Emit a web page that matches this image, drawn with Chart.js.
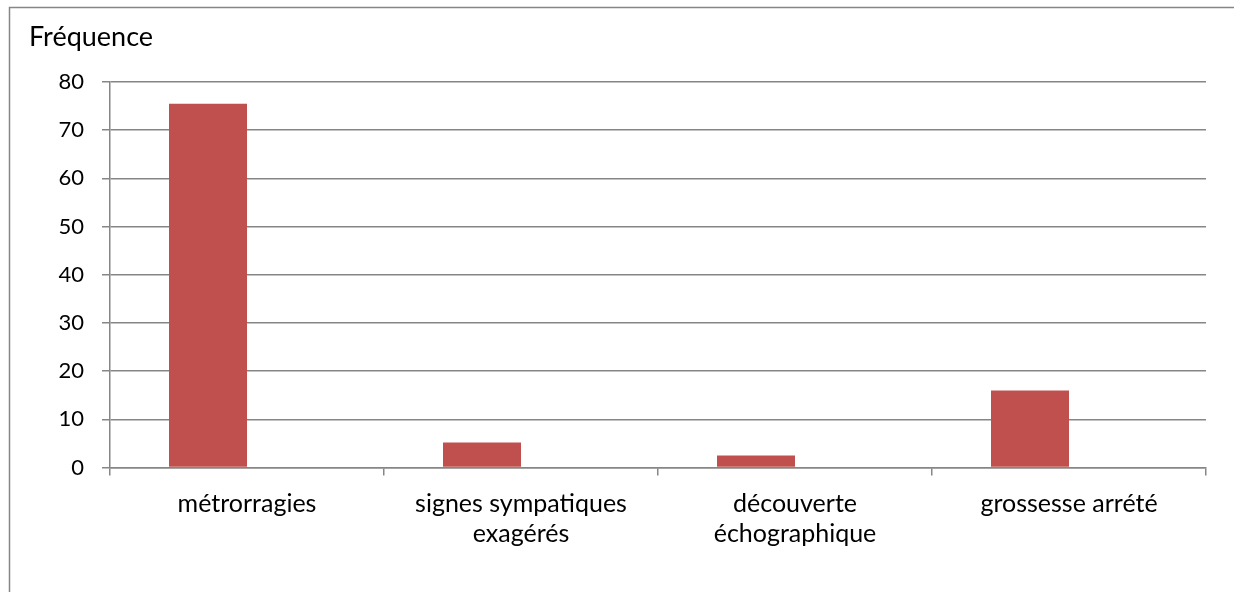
<!DOCTYPE html>
<html lang="fr">
<head>
<meta charset="utf-8">
<title>Fréquence</title>
<script src="https://cdn.jsdelivr.net/npm/chart.js@4/dist/chart.umd.min.js"></script>
<style>
  html, body { margin: 0; padding: 0; background: #ffffff; }
  canvas { display: block; }
</style>
</head>
<body>
<canvas id="chart" width="1234" height="592"></canvas>
<script>
// Circonstances de découverte
const categories = [
  'métrorragies',
  ['signes sympatiques', 'exagérés'],
  ['découverte', 'échographique'],
  'grossesse arrété'
];
const frequence = [75.5, 5.2, 2.5, 16];
const serieVide = [null, null, null, null];
const yTicks = { min: 0, max: 80, step: 10 };
const axisTitle = 'Fréquence';

const FONT = 'Lato, "DejaVu Sans", sans-serif';
const GREY = '#868686';

// Frame around the chart and the axis title
const framePlugin = {
  id: 'frame',
  beforeDraw(chart) {
    const ctx = chart.ctx;
    ctx.save();
    ctx.fillStyle = '#ffffff';
    ctx.fillRect(0, 0, chart.width, chart.height);
    ctx.strokeStyle = GREY;
    ctx.lineWidth = 1.5;
    ctx.beginPath();
    ctx.moveTo(9.5, chart.height);
    ctx.lineTo(9.5, 7.5);
    ctx.lineTo(chart.width, 7.5);
    ctx.stroke();
    ctx.restore();
  },
  afterDraw(chart) {
    const ctx = chart.ctx;
    ctx.save();
    ctx.fillStyle = '#000000';
    ctx.font = '27px ' + FONT;
    ctx.textAlign = 'left';
    ctx.textBaseline = 'alphabetic';
    ctx.fillText(axisTitle, 29, 46);
    ctx.restore();
  }
};

new Chart(document.getElementById('chart'), {
  type: 'bar',
  data: {
    labels: categories,
    datasets: [
      { label: 'Fréquence', data: frequence, backgroundColor: '#C0504D', borderWidth: 0 },
      { label: '', data: serieVide, backgroundColor: '#4F81BD', borderWidth: 0 }
    ]
  },
  options: {
    responsive: false,
    animation: false,
    devicePixelRatio: 1,
    categoryPercentage: 0.5693,
    barPercentage: 1,
    layout: { padding: { top: 82, right: 28, bottom: 0, left: 0 } },
    plugins: {
      legend: { display: false },
      title: { display: false },
      tooltip: { enabled: false }
    },
    scales: {
      x: {
        grid: {
          offset: true,
          drawOnChartArea: false,
          drawTicks: true,
          tickLength: 8,
          color: GREY,
          lineWidth: 1.5
        },
        border: { display: true, color: GREY, width: 1.5 },
        ticks: {
          color: '#000000',
          font: { family: FONT, size: 25, lineHeight: 1.2 },
          padding: 13,
          maxRotation: 0,
          autoSkip: false
        },
        afterFit(scale) { scale.height = 124.5; }
      },
      y: {
        min: yTicks.min,
        max: yTicks.max,
        grid: {
          color: GREY,
          lineWidth: 1.5,
          drawTicks: true,
          tickLength: 8
        },
        border: { display: true, color: GREY, width: 1.5 },
        ticks: {
          stepSize: yTicks.step,
          color: '#000000',
          font: { family: FONT, size: 22 },
          padding: 18
        },
        afterFit(scale) { scale.width = 110; }
      }
    }
  },
  plugins: [framePlugin]
});
</script>
</body>
</html>
